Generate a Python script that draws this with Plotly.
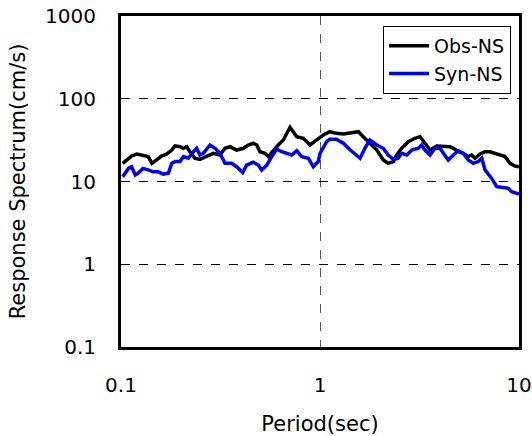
import plotly.graph_objects as go

# Observed NS spectrum (period in sec, response in cm/s)
obs_period = [0.102, 0.113, 0.120, 0.129, 0.137, 0.143, 0.151, 0.160, 0.170, 0.180,
              0.187, 0.198, 0.206, 0.214, 0.222, 0.235, 0.249, 0.270, 0.291, 0.314,
              0.333, 0.353, 0.381, 0.412, 0.436, 0.462, 0.481, 0.499, 0.529, 0.550,
              0.583, 0.617, 0.654, 0.707, 0.764, 0.824, 0.891, 0.962, 1.04, 1.12,
              1.21, 1.31, 1.42, 1.56, 1.65, 1.78, 1.93, 2.08, 2.20, 2.34,
              2.43, 2.57, 2.78, 3.00, 3.18, 3.37, 3.57, 3.86, 4.17, 4.50,
              4.68, 4.95, 5.25, 5.56, 5.78, 6.01, 6.37, 6.75, 7.15, 7.57,
              8.03, 8.51, 9.01, 9.55, 10.0]
obs_value = [16.6, 20.3, 21.5, 20.7, 20.0, 16.6, 18.2, 20.3, 21.5, 24.0,
             26.9, 26.3, 25.2, 26.3, 22.9, 19.1, 18.5, 20.3, 21.9, 20.9,
             25.2, 26.3, 24.0, 25.2, 27.6, 29.0, 27.6, 22.9, 21.9, 20.0,
             24.0, 27.6, 31.7, 45.2, 34.8, 33.3, 27.6, 31.7, 36.5, 40.0,
             38.2, 37.5, 38.2, 40.0, 34.8, 29.0, 24.0, 18.2, 16.6, 17.4,
             20.9, 25.2, 30.3, 33.3, 34.8, 29.0, 24.0, 26.9, 26.9, 26.3,
             25.2, 22.9, 21.9, 20.0, 20.9, 19.1, 21.5, 22.9, 22.9, 21.9,
             20.9, 20.0, 16.6, 15.4, 15.1]

# Synthetic NS spectrum
syn_period = [0.102, 0.109, 0.113, 0.118, 0.122, 0.129, 0.137, 0.145, 0.154, 0.163,
              0.173, 0.180, 0.187, 0.198, 0.206, 0.218, 0.227, 0.240, 0.249, 0.259,
              0.280, 0.297, 0.314, 0.333, 0.360, 0.381, 0.409, 0.428, 0.462, 0.490,
              0.509, 0.540, 0.572, 0.606, 0.642, 0.680, 0.721, 0.764, 0.809, 0.874,
              0.925, 0.980, 1.00, 1.08, 1.12, 1.21, 1.31, 1.42, 1.59, 1.68,
              1.78, 1.93, 2.08, 2.20, 2.34, 2.47, 2.57, 2.73, 2.89, 3.12,
              3.24, 3.37, 3.57, 3.78, 4.01, 4.17, 4.41, 4.68, 4.95, 5.25,
              5.56, 5.89, 6.24, 6.50, 6.75, 7.29, 7.73, 8.14, 8.83, 9.19,
              10.0]
syn_value = [11.4, 14.4, 15.1, 12.0, 12.6, 14.4, 13.8, 13.1, 13.1, 12.3,
             12.6, 16.6, 17.4, 17.4, 20.0, 19.1, 21.9, 25.2, 20.9, 21.9,
             27.6, 25.2, 21.9, 16.6, 16.6, 15.1, 12.8, 15.8, 17.1, 15.8,
             13.8, 15.8, 20.0, 24.5, 22.9, 21.9, 20.9, 23.6, 20.0, 19.1,
             15.1, 17.4, 21.9, 30.3, 32.4, 32.4, 29.0, 24.0, 19.1, 25.2,
             31.7, 27.6, 25.2, 20.9, 18.5, 19.1, 21.9, 20.9, 24.0, 25.2,
             27.6, 24.0, 20.9, 25.2, 25.2, 21.9, 18.2, 20.9, 23.6, 21.9,
             18.2, 16.6, 17.4, 19.1, 13.8, 10.9, 8.65, 8.51, 8.28, 7.53,
             7.06]

x_ticks = [0.1, 1, 10]
x_tick_labels = ["0.1", "1", "10"]
y_ticks = [0.1, 1, 10, 100, 1000]
y_tick_labels = ["0.1", "1", "10", "100", "1000"]

FONT = "DejaVu Sans"

fig = go.Figure()
fig.add_trace(go.Scatter(x=obs_period, y=obs_value, mode="lines", name="Obs-NS",
                         line=dict(color="#000000", width=3.5)))
fig.add_trace(go.Scatter(x=syn_period, y=syn_value, mode="lines", name="Syn-NS",
                         line=dict(color="#0000FF", width=3.5)))

fig.update_layout(
    width=532, height=436,
    margin=dict(l=121, r=13, t=16, b=89, autoexpand=False),
    paper_bgcolor="white", plot_bgcolor="white",
    font=dict(family=FONT, size=20, color="#000"),
    showlegend=True,
    legend=dict(x=0.98, y=0.97, xanchor="right", yanchor="top",
                bordercolor="#000", borderwidth=1, bgcolor="white",
                font=dict(family=FONT, size=19, color="#000"),
                tracegroupgap=0, itemwidth=40),
    xaxis=dict(type="log", range=[-1, 1], tickvals=x_ticks, ticktext=x_tick_labels,
               showline=True, mirror=True, linewidth=3, linecolor="#000",
               showgrid=True, gridcolor="#555", griddash="dash", gridwidth=1,
               ticks="", ticklabelstandoff=18, zeroline=False, automargin=False,
               title=dict(text="Period(sec)", font=dict(family=FONT, size=21), standoff=24)),
    yaxis=dict(type="log", range=[-1, 3], tickvals=y_ticks, ticktext=y_tick_labels,
               showline=True, mirror=True, linewidth=3, linecolor="#000",
               showgrid=True, gridcolor="#000", griddash="dash", gridwidth=1,
               ticks="", ticklabelstandoff=18, zeroline=False, automargin=False,
               title=dict(text="Response Spectrum(cm/s)", font=dict(family=FONT, size=21), standoff=14)),
)

fig.write_html("out.html", config={"displayModeBar": False},
               post_script="document.body.style.margin='0';")
